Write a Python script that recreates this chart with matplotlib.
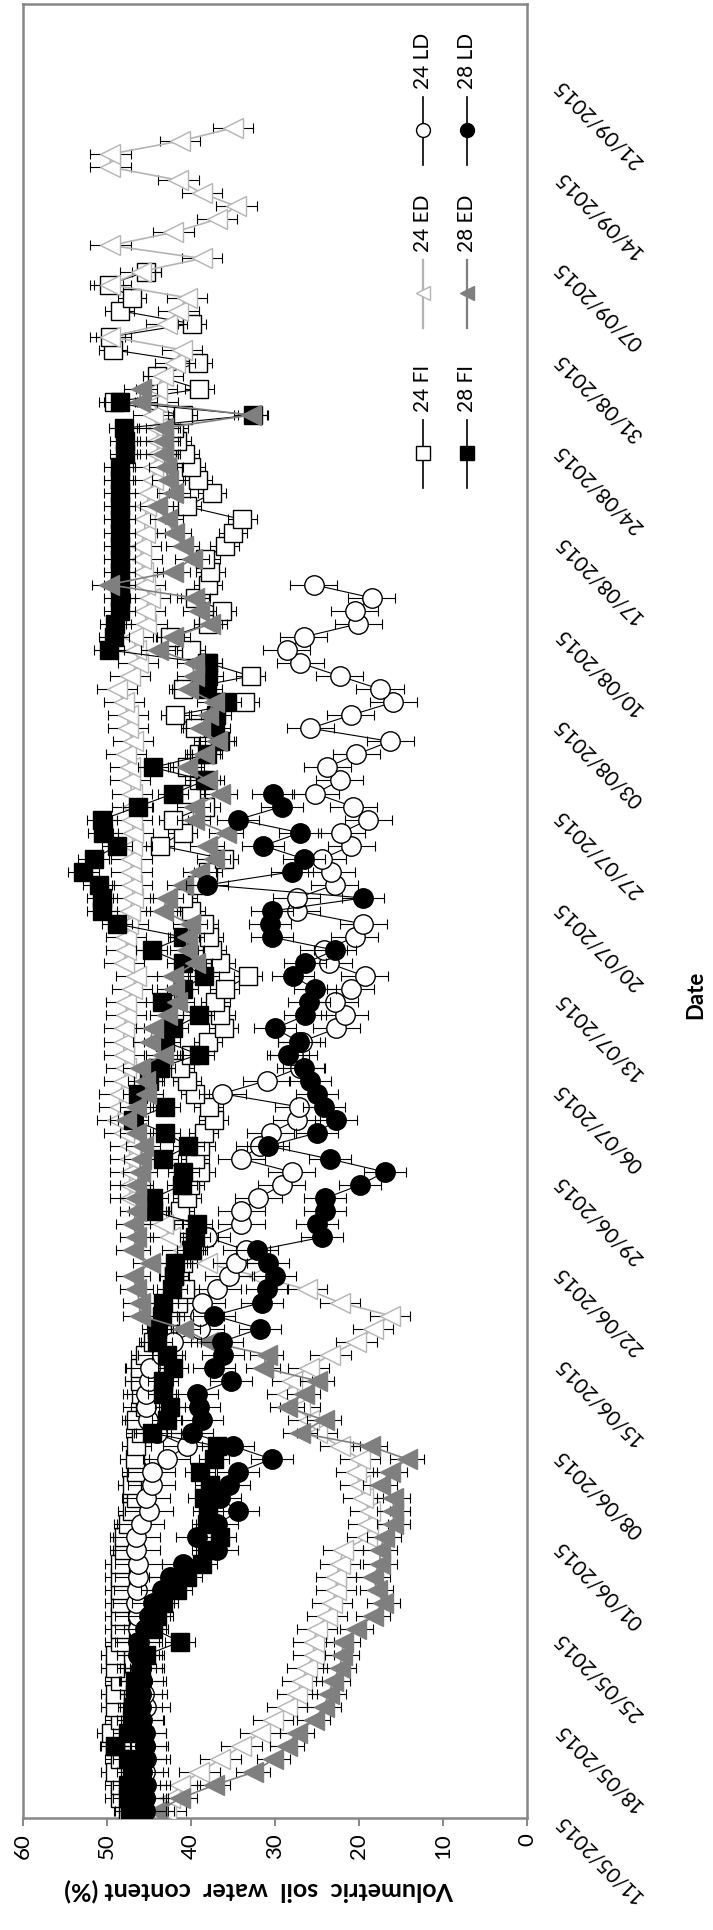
import datetime as dt
import numpy as np
import matplotlib
matplotlib.use("Agg")
import matplotlib.pyplot as plt

plt.rcParams['font.family'] = ['Lato', 'DejaVu Sans']

W, H = 713, 1930
START = dt.date(2015, 5, 11)
AXIS_DAYS = 139            # date axis 11/05/2015 .. 27/09/2015
TICK_STEP = 7
SAMPLE_TIME = 0.5          # daily readings, plotted at midday
VALUE_TICKS = [0, 10, 20, 30, 40, 50, 60]

# daily volumetric soil water content (%), one value per day from 11/05/2015
fi24 = [47.5, 48.5, 48.5, 49.0, 48.5, 49.0, 49.5, 48.5, 49.0, 49.0,
        48.5, 49.0, 49.0, 48.5, 48.5, 48.5, 48.5, 48.5, 48.5, 48.5,
        48.0, 48.0, 47.5, 47.0, 46.5, 47.0, 46.5, 46.7, 46.5, 46.0,
        46.5, 45.5, 45.9, 46.1, 46.1, 45.5, 44.5, 43.5, 42.5, 41.5,
        40.7, 42.0, 41.0, 40.0, 38.5, 41.0, 41.3, 40.5, 40.1, 38.9,
        39.5, 38.9, 38.5, 37.3, 37.9, 39.5, 40.5, 41.3, 40.0, 38.0,
        36.1, 36.5, 37.1, 36.0, 33.2, 36.5, 37.5, 37.9, 38.5, 40.0,
        41.0, 39.3, 38.0, 36.1, 43.7, 41.0, 42.1, 38.3, 40.0, 39.0,
        40.5, 39.0, 38.0, 39.5, 41.9, 33.6, 40.9, 32.9, 38.0, 40.0,
        42.5, 38.0, 36.3, 39.5, 38.0, 37.7, 38.3, 36.0, 35.0, 33.9,
        40.5, 37.5, 39.2, 40.0, 40.7, 41.7, 42.0, 41.0, 49.2, 39.0,
        44.0, 39.2, 49.3, 49.6, 39.9, 48.5, 47.0, 49.8, 45.3]

ed24 = [43.0, 42.5, 41.3, 39.0, 36.5, 34.0, 31.8, 30.2, 28.6, 27.4,
        26.8, 26.2, 25.4, 25.4, 25.0, 23.8, 23.2, 22.7, 22.7, 22.3,
        21.9, 19.0, 18.9, 18.7, 19.5, 19.9, 20.3, 19.9, 22.3, 25.0,
        26.0, 27.0, 28.6, 28.0, 26.0, 23.4, 20.3, 18.3, 16.3, 22.3,
        26.2, 32.0, 38.1, 41.0, 42.5, 43.3, 45.0, 47.3, 47.3, 47.3,
        47.3, 47.3, 48.0, 48.8, 48.5, 48.5, 48.0, 47.7, 48.0, 48.0,
        48.0, 47.7, 47.7, 47.0, 46.5, 48.0, 47.7, 47.7, 47.5, 47.3,
        46.9, 47.0, 47.1, 47.1, 47.0, 46.9, 47.0, 47.0, 47.0, 47.3,
        47.3, 47.7, 46.9, 47.5, 47.5, 48.0, 48.8, 47.3, 46.3, 46.5,
        46.9, 45.3, 45.5, 44.9, 45.5, 45.7, 45.9, 46.0, 45.5, 45.5,
        45.3, 45.0, 44.5, 44.5, 44.0, 44.0, 44.0, 44.5, 44.0, 44.1,
        43.3, 41.9, 41.1, 49.6, 42.9, 41.5, 40.5, 49.6, 46.0, 38.7,
        49.6, 42.1, 36.9, 34.6, 38.7, 41.5, 49.6, 49.6, 41.3, 35.0]

ld24 = [45.5, 45.5, 45.3, 45.5, 45.3, 45.5, 45.8, 46.0, 45.3, 45.6,
        45.8, 46.0, 46.0, 46.2, 46.3, 46.3, 46.5, 46.4, 46.3, 46.3,
        46.5, 46.5, 46.0, 45.0, 45.3, 44.7, 44.7, 42.9, 40.5, 44.0,
        45.1, 45.3, 45.3, 45.0, 44.9, 43.5, 42.1, 38.9, 38.9, 38.7,
        36.9, 35.5, 34.6, 33.4, 38.1, 34.0, 34.0, 32.0, 29.2, 28.0,
        34.0, 31.8, 30.5, 27.4, 27.2, 36.3, 31.0, 27.0, 27.8, 26.8,
        22.7, 21.7, 22.9, 21.0, 19.3, 23.6, 24.2, 20.5, 19.5, 27.4,
        27.4, 22.9, 23.3, 24.4, 20.9, 22.1, 18.9, 20.7, 25.2, 22.3,
        23.8, 20.3, 16.3, 25.8, 21.0, 15.9, 17.5, 22.3, 27.0, 28.6,
        26.6, 20.1, 20.5, 18.5, 25.4]

fi28 = [47.3, 47.5, 47.5, 47.0, 47.5, 49.0, 47.5, 47.0, 46.9, 46.7,
        46.7, 46.0, 45.3, 41.3, 44.5, 44.0, 43.3, 41.7, 40.5, 38.7,
        38.1, 36.5, 38.1, 38.0, 38.5, 37.7, 38.9, 37.3, 36.9, 44.7,
        42.9, 42.5, 43.3, 43.3, 42.1, 42.9, 44.1, 44.0, 43.5, 43.3,
        42.3, 42.0, 41.9, 39.9, 39.5, 39.3, 44.5, 44.5, 41.1, 40.9,
        43.3, 40.3, 43.1, 46.9, 43.1, 46.3, 45.0, 43.7, 39.1, 43.1,
        42.1, 39.1, 43.5, 41.0, 38.5, 41.0, 44.7, 40.9, 48.8, 50.6,
        50.6, 51.0, 52.8, 51.6, 48.8, 50.5, 50.6, 46.3, 42.1, 38.3,
        44.5, 38.1, 36.5, 37.1, 37.0, 35.8, 38.1, 38.0, 38.1, 49.8,
        49.2, 49.0, 48.5, 48.5, 48.5, 48.5, 48.5, 48.5, 48.5, 48.5,
        48.5, 48.5, 48.5, 48.5, 47.9, 47.9, 48.0, 32.6, 48.5]

ed28 = [44.0, 41.3, 37.3, 32.6, 30.2, 28.6, 27.4, 25.4, 24.2, 23.6,
        23.1, 22.3, 22.0, 21.9, 20.3, 18.3, 17.1, 17.9, 18.3, 17.5,
        17.5, 17.0, 15.9, 15.9, 15.9, 17.5, 16.3, 14.3, 18.7, 27.0,
        24.2, 28.6, 26.6, 25.0, 31.4, 31.0, 38.0, 40.9, 46.1, 46.1,
        46.5, 46.9, 44.9, 46.9, 46.5, 46.9, 46.5, 46.5, 46.5, 46.1,
        46.0, 45.7, 46.5, 47.7, 46.5, 45.3, 45.5, 46.1, 43.3, 44.9,
        44.5, 42.9, 41.7, 42.0, 42.1, 39.5, 40.5, 40.5, 40.1, 43.3,
        42.9, 40.9, 39.0, 37.3, 38.1, 35.8, 39.7, 39.7, 36.5, 38.1,
        40.5, 38.5, 36.9, 38.9, 38.0, 37.3, 40.3, 39.7, 39.7, 43.9,
        42.1, 37.7, 39.0, 39.7, 49.8, 42.1, 39.9, 41.0, 42.0, 42.9,
        44.1, 42.1, 42.7, 43.0, 43.3, 43.3, 43.3, 32.9, 46.1, 46.0]

ld28 = [45.5, 45.5, 45.5, 45.8, 45.5, 45.5, 45.5, 45.8, 46.0, 46.0,
        45.8, 46.0, 46.3, 46.3, 45.5, 45.0, 44.5, 43.5, 42.5, 41.0,
        36.9, 39.3, 36.9, 34.4, 36.5, 35.5, 34.4, 30.4, 35.0, 39.9,
        38.7, 39.0, 39.3, 35.2, 37.3, 36.2, 36.3, 31.8, 37.3, 31.6,
        31.0, 30.0, 30.8, 32.2, 24.4, 25.0, 24.0, 24.0, 19.9, 16.9,
        23.5, 30.8, 25.0, 22.7, 24.2, 25.0, 25.8, 26.6, 28.4, 27.2,
        30.0, 26.4, 26.0, 25.2, 27.8, 26.4, 22.9, 30.4, 30.6, 30.4,
        19.5, 38.1, 28.0, 26.6, 31.4, 27.0, 34.4, 29.2, 30.2]

# typical standard error of each treatment
se = {"24 FI": 1.7, "24 ED": 2.4, "24 LD": 2.8, "28 FI": 1.8, "28 ED": 2.0, "28 LD": 2.5}

BLACK = "black"
LIGHT = "#b4b4b4"
GREY = "#7f7f7f"
SPINE = "#878787"

STYLES = {
    "24 FI": dict(marker="s", mfc="white", mec=BLACK, color=BLACK, lw=0.8, ms=13),
    "24 ED": dict(marker="<", mfc="white", mec=LIGHT, color=LIGHT, lw=1.2, ms=14),
    "24 LD": dict(marker="o", mfc="white", mec=BLACK, color=BLACK, lw=0.8, ms=14),
    "28 FI": dict(marker="s", mfc=BLACK, mec=BLACK, color=BLACK, lw=0.8, ms=13),
    "28 ED": dict(marker="<", mfc=GREY, mec=GREY, color=GREY, lw=1.2, ms=14),
    "28 LD": dict(marker="o", mfc=BLACK, mec=BLACK, color=BLACK, lw=0.8, ms=14),
}
SERIES = [("24 FI", fi24), ("24 ED", ed24), ("24 LD", ld24),
          ("28 FI", fi28), ("28 ED", ed28), ("28 LD", ld28)]

fig = plt.figure(figsize=(W / 100, H / 100), dpi=100)
ax = fig.add_axes([23 / W, 1 - 1818 / H, (527 - 23) / W, (1818 - 4) / H])

for i, (name, vals) in enumerate(SERIES):
    days = np.arange(len(vals)) + SAMPLE_TIME
    ax.errorbar(vals, days, xerr=se[name], fmt="none", ecolor=BLACK,
                elinewidth=0.8, capsize=3.5, capthick=0.8, zorder=2 + 2 * i)
    st = STYLES[name]
    ax.plot(vals, days, marker=st["marker"], ms=st["ms"], mfc=st["mfc"],
            mec=st["mec"], mew=1.0, color=st["color"], lw=st["lw"],
            zorder=3 + 2 * i)

ax.set_xlim(60, 0)
ax.set_ylim(0, AXIS_DAYS)

for sp in ax.spines.values():
    sp.set_color(SPINE)
    sp.set_linewidth(1.8)

ax.set_xticks(VALUE_TICKS)
ax.set_xticklabels([str(v) for v in VALUE_TICKS], rotation=90, fontsize=16)
ax.tick_params(axis="x", direction="out", length=6, width=1.4, color=SPINE, pad=5)

tick_days = list(range(0, AXIS_DAYS, TICK_STEP))
ax.set_yticks(tick_days)
ax.set_yticklabels([(START + dt.timedelta(days=d)).strftime("%d/%m/%Y") for d in tick_days],
                   fontsize=15)
ax.yaxis.tick_right()
ax.tick_params(axis="y", length=0, pad=22)
for lab in ax.get_yticklabels():
    lab.set_rotation(135)
    lab.set_rotation_mode("anchor")
    lab.set_ha("right")
    lab.set_va("center")

# overlay in pixel coordinates for legend and titles
ov = fig.add_axes([0, 0, 1, 1])
ov.set_xlim(0, W)
ov.set_ylim(H, 0)
ov.axis("off")

ov.text(259, 1890, "Volumetric  soil  water  content (%)", rotation=180,
        ha="center", va="center", fontsize=18, fontweight="bold")
ov.text(696, 995, "Date", rotation=90, ha="center", va="center",
        fontsize=16, fontweight="bold")

LEG_COLS = {"24": 423, "28": 467}
LEG_ROWS = {"FI": 453, "ED": 293, "LD": 130}
for name, _ in SERIES:
    grp, trt = name.split()
    x, y = LEG_COLS[grp], LEG_ROWS[trt]
    st = STYLES[name]
    ov.plot([x, x], [y + 35, y - 33], color=st["color"], lw=st["lw"] + 0.4)
    ov.plot([x], [y], marker=st["marker"], ms=10, mfc=st["mfc"], mec=st["mec"], mew=1.0)
    ov.text(x, y - 41, name, rotation=90, rotation_mode="anchor",
            ha="left", va="center", fontsize=15)

fig.savefig("out.png", dpi=100)
